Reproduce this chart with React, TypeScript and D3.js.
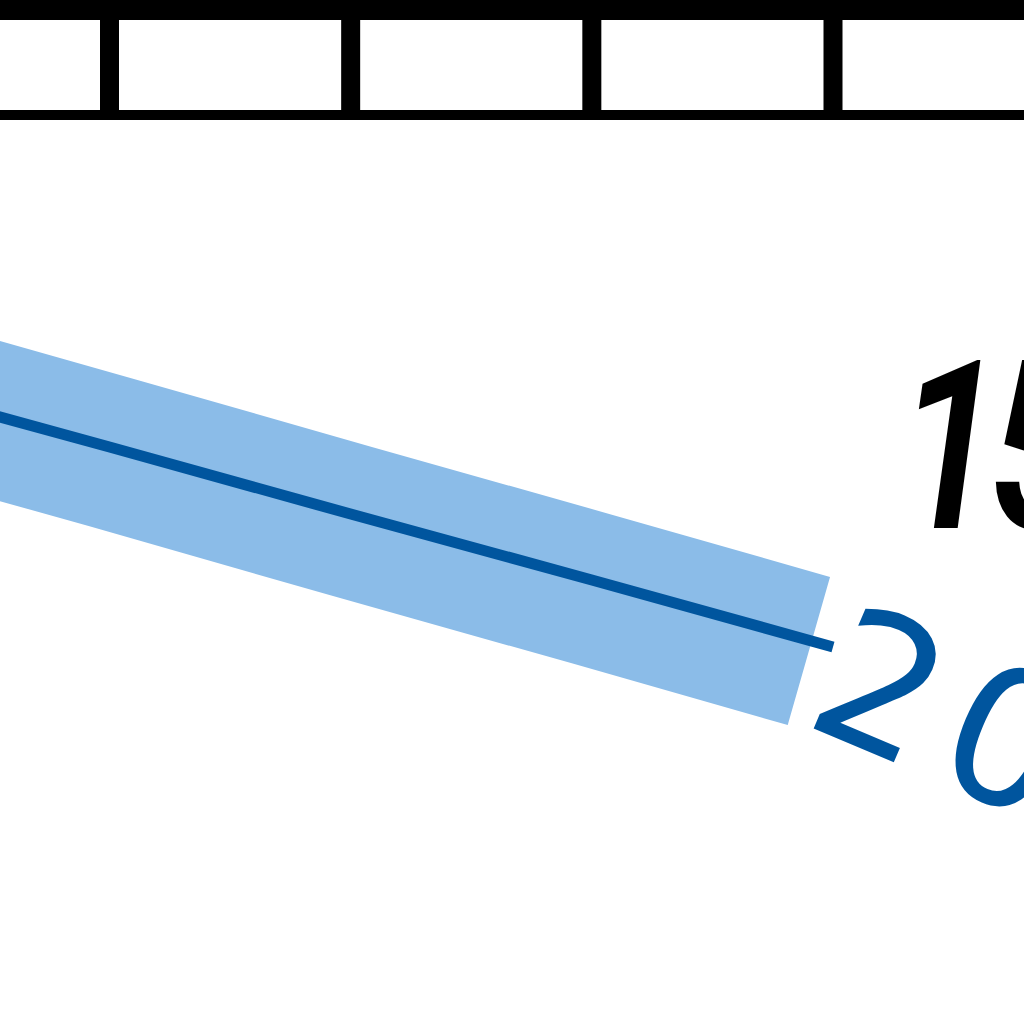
import * as d3 from 'd3';

// Values
const tickYears = [2020, 2030, 2040, 2050];
const lineYears = [2010, 2020, 2030, 2040, 2050];
const lineValues = [61.9, 55.3, 48.6, 42.0, 35.3];
const bandYears = [2010, 2020, 2030, 2040, 2049];
const bandValues = [61.6, 54.8, 47.9, 41.1, 34.9];
const endLabel = '20';
const sideLabel = '15';

const W = 1024;
const H = 1024;
const DARK = '#00559e';
const LIGHT = '#8bbce8';

export default function App() {
  const x = d3.scaleLinear().domain([2020, 2050]).range([109.5, 833]);
  const y = d3.scaleLinear().domain([0, 100]).range([1000, 0]);

  const line = d3.line<number>()
    .x((_d, i) => x(lineYears[i]))
    .y(d => y(d));

  const band = d3.line<number>()
    .x((_d, i) => x(bandYears[i]))
    .y(d => y(d));

  const endX = x(lineYears[lineYears.length - 1]);
  const endY = y(lineValues[lineValues.length - 1]);

  return (
    <div style={{ position: 'absolute', left: 0, top: 0, width: W, height: H, background: '#fff' }}>
      <svg width={W} height={H} viewBox={`0 0 ${W} ${H}`} style={{ display: 'block' }}>
        <rect width={W} height={H} fill="#fff" />

        {/* top frame with ticks */}
        <rect x={0} y={0} width={W} height={20} fill="#000" />
        <rect x={0} y={110} width={W} height={10} fill="#000" />
        {tickYears.map(t => (
          <rect key={t} x={x(t) - 9.5} y={20} width={19} height={90} fill="#000" />
        ))}

        {/* uncertainty ribbon */}
        <path
          d={band(bandValues) ?? ''}
          fill="none"
          stroke={LIGHT}
          strokeWidth={154}
          strokeLinecap="butt"
          strokeLinejoin="round"
        />
        {/* central line */}
        <path d={line(lineValues) ?? ''} fill="none" stroke={DARK} strokeWidth={11} />

        {/* end label, rotated along the line */}
        <text
          transform={`translate(${endX - 32},${endY + 76}) rotate(23)`}
          fontFamily="DejaVu Sans"
          fontSize={188}
          letterSpacing={18}
          fill={DARK}
        >
          {endLabel}
        </text>

        <text
          transform="translate(897,528) scale(0.8,1)"
          fontFamily="Roboto"
          fontStyle="italic"
          fontWeight={600}
          fontSize={236}
          letterSpacing={-16}
          fill="#000"
        >
          {sideLabel}
        </text>
      </svg>
    </div>
  );
}
